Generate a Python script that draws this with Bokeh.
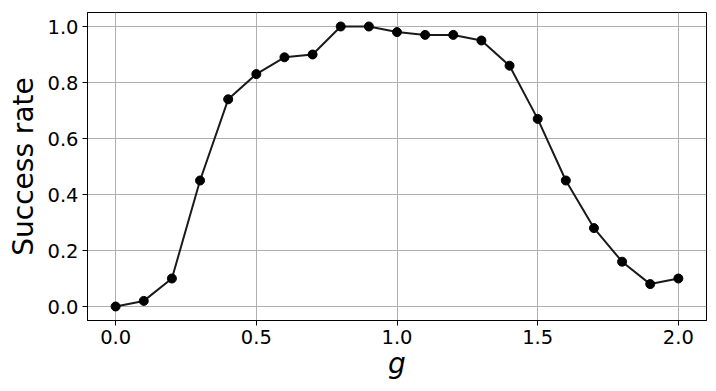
from bokeh.plotting import figure
from bokeh.embed import file_html
from bokeh.resources import INLINE
from bokeh.models import FixedTicker, Range1d, PrintfTickFormatter

g = [0.0, 0.1, 0.2, 0.3, 0.4, 0.5, 0.6, 0.7, 0.8, 0.9, 1.0,
     1.1, 1.2, 1.3, 1.4, 1.5, 1.6, 1.7, 1.8, 1.9, 2.0]
success = [0.0, 0.02, 0.10, 0.45, 0.74, 0.83, 0.89, 0.90, 1.0, 1.0, 0.98,
           0.97, 0.97, 0.95, 0.86, 0.67, 0.45, 0.28, 0.16, 0.08, 0.10]
x_ticks = [0.0, 0.5, 1.0, 1.5, 2.0]
y_ticks = [0.0, 0.2, 0.4, 0.6, 0.8, 1.0]

p = figure(width=714, height=389, output_backend="svg", toolbar_location=None,
           x_range=Range1d(-0.1, 2.1), y_range=Range1d(-0.05, 1.05),
           min_border_left=87, min_border_right=8, min_border_top=12,
           min_border_bottom=69)
p.background_fill_color = "white"
p.border_fill_color = "white"
p.outline_line_color = "black"
p.outline_line_width = 1
p.outline_line_alpha = 1

p.line(g, success, line_color="#1a1a1a", line_width=2)
p.scatter(g, success, size=9, fill_color="black", line_color="black")

for ax in (p.xaxis[0], p.yaxis[0]):
    ax.major_label_text_font = "DejaVu Sans"
    ax.major_label_text_font_size = "19.5px"
    ax.major_label_text_color = "black"
    ax.axis_label_text_font = "DejaVu Sans"
    ax.axis_label_text_font_size = "28px"
    ax.axis_label_text_font_style = "normal"
    ax.axis_label_text_color = "black"
    ax.minor_tick_line_color = None
    ax.major_tick_out = 5
    ax.major_tick_in = 0
    ax.major_tick_line_color = "black"
    ax.axis_line_color = "black"
    ax.major_label_standoff = 4

p.xaxis.ticker = FixedTicker(ticks=x_ticks)
p.yaxis.ticker = FixedTicker(ticks=y_ticks)
p.xaxis.formatter = PrintfTickFormatter(format="%.1f")
p.yaxis.formatter = PrintfTickFormatter(format="%.1f")
p.xaxis.axis_label = "g"
p.xaxis.axis_label_text_font_style = "italic"
p.yaxis.axis_label = "Success rate"
p.xaxis.axis_label_standoff = 0
p.yaxis.axis_label_standoff = 4

p.grid.grid_line_color = "#b0b0b0"
p.grid.grid_line_width = 1
p.xgrid.ticker = FixedTicker(ticks=x_ticks)
p.ygrid.ticker = FixedTicker(ticks=y_ticks)

open("out.html", "w").write(file_html(p, INLINE))
